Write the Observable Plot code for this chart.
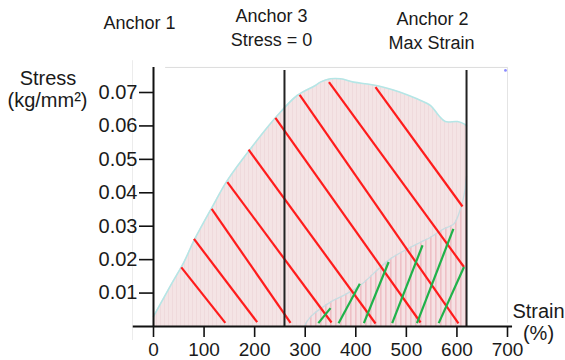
<!DOCTYPE html>
<html><head><meta charset="utf-8">
<script src="https://cdn.jsdelivr.net/npm/d3@7"></script>
<script src="https://cdn.jsdelivr.net/npm/@observablehq/plot@0.6"></script>
<style>body{margin:0;background:#fff}</style>
</head><body><div id="chart"></div>
<script>
// ---- data ----
const upperStrain = [0, 34, 60, 80, 116, 146, 192, 245, 284, 320, 330, 350, 370, 396, 429, 455, 488, 521, 548, 564, 577, 601, 614, 619];
const upperStress = [0.003, 0.0123, 0.0192, 0.0257, 0.0357, 0.0437, 0.0532, 0.0631, 0.0691, 0.0721, 0.0731, 0.0741, 0.0741, 0.0731, 0.0724, 0.0716, 0.0701, 0.0681, 0.0661, 0.0631, 0.0613, 0.0613, 0.0606, 0.060];

const lowerStrain = [298, 310, 350, 376, 409, 442, 469, 502, 528, 548, 574, 594, 607, 614, 619];
const lowerStress = [0, 0.0028, 0.0073, 0.0093, 0.0123, 0.0168, 0.0203, 0.0232, 0.0252, 0.0267, 0.0292, 0.0307, 0.0352, 0.0392, 0.045];

const redStartStrain = [55, 80, 115, 146, 188, 241, 289, 347, 439];
const redStartStress = [0.0177, 0.0262, 0.0352, 0.0432, 0.0529, 0.0624, 0.0693, 0.0731, 0.0716];
const redEndStrain   = [142, 205, 271, 352, 439, 528, 603, 614, 611];
const redEndStress   = [0.0011, 0.0013, 0.0011, 0.0012, 0.0009, 0.0012, 0.0009, 0.0178, 0.0359];

const greenStartStrain = [326, 366, 416, 472, 521, 564];
const greenStartStress = [0.001, 0.001, 0.001, 0.001, 0.001, 0.001];
const greenEndStrain   = [350, 408, 465, 532, 593, 614];
const greenEndStress   = [0.0055, 0.0128, 0.0193, 0.0243, 0.0292, 0.0178];

const anchorStrain = [259, 619];   // Anchor 3 (stress = 0), Anchor 2 (max strain)
const anchorTop = 0.0766;
const axisTop = 0.0775;

const xTicks = [0, 100, 200, 300, 400, 500, 600, 700];
const yTicks = [0.01, 0.02, 0.03, 0.04, 0.05, 0.06, 0.07];

const titleAnchor1 = "Anchor 1";
const titleAnchor3 = ["Anchor 3", "Stress = 0"];
const titleAnchor2 = ["Anchor 2", "Max Strain"];
const yLabel = ["Stress", "(kg/mm²)"];
const xLabel = ["Strain", "(%)"];

// ---- tables ----
const upper = upperStrain.map((x, i) => ({strain: x, stress: upperStress[i]}));
const lower = lowerStrain.map((x, i) => ({strain: x, stress: lowerStress[i]}));
const red = redStartStrain.map((x, i) => ({x1: x, y1: redStartStress[i], x2: redEndStrain[i], y2: redEndStress[i]}));
const green = greenStartStrain.map((x, i) => ({x1: x, y1: greenStartStress[i], x2: greenEndStrain[i], y2: greenEndStress[i]}));

const FONT = "'Liberation Sans', Arial, sans-serif";
const INK = "#1a1a1a";
const txt = (s, dx, dy, size) => Plot.text([s], {frameAnchor: "top-left", dx, dy, fontSize: size, textAnchor: "middle", lineAnchor: "middle", fill: INK});

const plot = Plot.plot({
  width: 565, height: 360,
  marginLeft: 153, marginRight: 58, marginTop: 92, marginBottom: 34,
  x: {domain: [0, 700]},
  y: {domain: [0, 0.07]},
  style: {fontFamily: FONT, color: INK, background: "#fff"},
  marks: [
    // faint frame
    Plot.ruleY([axisTop], {x1: 24, x2: 700, stroke: "#dcdcdc", strokeWidth: 1}),
    Plot.ruleX([700], {y1: 0.001, y2: axisTop, stroke: "#e4e4e4", strokeWidth: 1}),
    Plot.ruleX([-41.5], {y1: -0.0042, y2: 0.0795, stroke: "#ececec", strokeWidth: 1}),
    Plot.dot([700], {x: d => d - 4, y: anchorTop, r: 1.4, fill: "#8c8cff", stroke: null}),
    // regions
    Plot.areaY(upper, {x: "strain", y: "stress", fill: "url(#pinkA)", curve: "catmull-rom"}),
    Plot.lineY(upper, {x: "strain", y: "stress", stroke: "#b4e6e6", strokeWidth: 1.6, curve: "catmull-rom"}),
    Plot.areaY(lower, {x: "strain", y: "stress", fill: "url(#pinkB)", curve: "catmull-rom"}),
    Plot.lineY(lower, {x: "strain", y: "stress", stroke: "#c6dde2", strokeWidth: 1.3, curve: "catmull-rom"}),
    // hatching
    Plot.link(red, {x1: "x1", y1: "y1", x2: "x2", y2: "y2", stroke: "#ff1c1c", strokeWidth: 2.2}),
    Plot.link(green, {x1: "x1", y1: "y1", x2: "x2", y2: "y2", stroke: "#1fb24a", strokeWidth: 2.2}),
    // anchors
    Plot.ruleX(anchorStrain, {y1: 0, y2: anchorTop, stroke: "#222", strokeWidth: 2}),
    // axis lines
    Plot.ruleX([0], {y1: 0, y2: axisTop, stroke: "#111", strokeWidth: 2}),
    Plot.ruleY([0], {x1: -40, x2: 710, stroke: "#111", strokeWidth: 2}),
    Plot.axisY({ticks: yTicks, tickSize: 14, tickPadding: 2, tickFormat: d3.format(".2f"), fontSize: 20, label: null, stroke: "#111", strokeWidth: 1.6, fill: INK}),
    Plot.axisX({ticks: xTicks, tickSize: 11, tickPadding: 5, tickFormat: d3.format("d"), fontSize: 19, label: null, stroke: "#111", strokeWidth: 1.6, fill: INK}),
    // titles / labels
    txt(titleAnchor1, 139 - 153, 23 - 92, 18),
    txt(titleAnchor3[0], 271 - 153, 16 - 92, 18),
    txt(titleAnchor3[1], 271 - 153, 40 - 92, 18),
    txt(titleAnchor2[0], 432 - 153, 19 - 92, 18),
    txt(titleAnchor2[1], 431 - 153, 43 - 92, 18),
    txt(yLabel[0], 47.5 - 153, 78.5 - 92, 20),
    txt(yLabel[1], 47 - 153, 100 - 92, 20),
    txt(xLabel[0], 538 - 153, 311.5 - 92, 20),
    txt(xLabel[1], 538 - 153, 333.5 - 92, 20)
  ]
});

// stripe patterns used as fills
const defs = d3.select(plot).insert("defs", ":first-child");
const pA = defs.append("pattern").attr("id", "pinkA").attr("patternUnits", "userSpaceOnUse").attr("width", 4).attr("height", 10);
pA.append("rect").attr("width", 4).attr("height", 10).attr("fill", "#f4e4e5");
pA.append("rect").attr("width", 1).attr("height", 10).attr("fill", "#efdadc");
const pB = defs.append("pattern").attr("id", "pinkB").attr("patternUnits", "userSpaceOnUse").attr("width", 5).attr("height", 10);
pB.append("rect").attr("width", 5).attr("height", 10).attr("fill", "#f5e2e4");
pB.append("rect").attr("width", 1.6).attr("height", 10).attr("fill", "#eec0c6");

document.getElementById("chart").append(plot);
</script>
</body></html>
